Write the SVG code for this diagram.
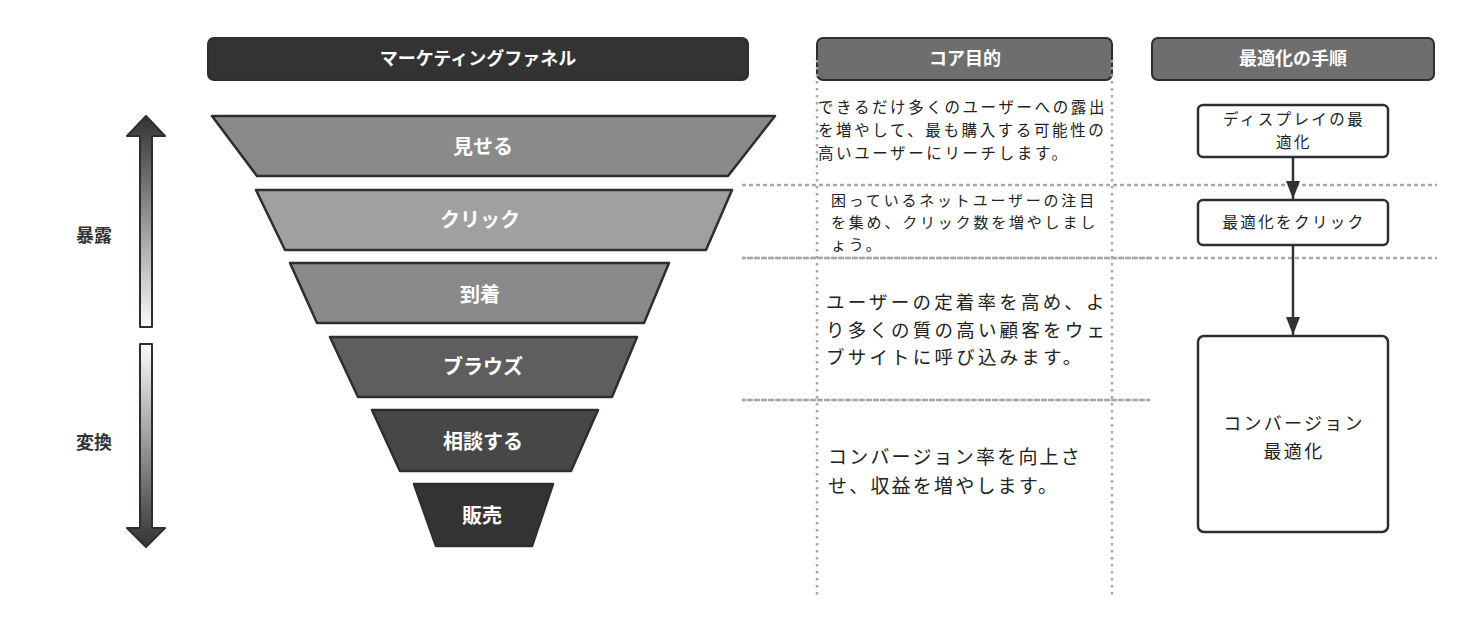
<svg xmlns="http://www.w3.org/2000/svg" width="1471" height="631" viewBox="0 0 1471 631">
<defs>
<linearGradient id="gUp" x1="0" y1="0" x2="0" y2="1"><stop offset="0" stop-color="#333"/><stop offset="1" stop-color="#fafafa"/></linearGradient>
<linearGradient id="gDown" x1="0" y1="0" x2="0" y2="1"><stop offset="0" stop-color="#fafafa"/><stop offset="1" stop-color="#333"/></linearGradient>
<marker id="arr" viewBox="0 0 18 14" refX="18" refY="7" markerWidth="18" markerHeight="14" markerUnits="userSpaceOnUse" orient="auto"><path d="M0,0 L18,7 L0,14 z" fill="#333"/></marker>
<style>
.t{font-family:"Noto Sans CJK JP","Noto Sans",sans-serif}
.hd{font-size:18px;font-weight:bold;fill:#fff;text-anchor:middle}
.fn{font-size:20px;font-weight:bold;fill:#fff;text-anchor:middle}
.lb{font-size:18px;font-weight:bold;fill:#333;text-anchor:middle}
.bx{fill:#fff;stroke:#2b2f33;stroke-width:2.5}
.tr{stroke:#2b2f33;stroke-width:2.5;stroke-linejoin:round}
.dv{stroke:#a8a8a8;stroke-width:2.5;stroke-dasharray:2.5 4.5;fill:none}
.dh{stroke:#a8a8a8;stroke-width:2.5;stroke-dasharray:4 3;fill:none}
.body{fill:#222}
.ln{stroke:#333;stroke-width:2.5;fill:none}
</style>
</defs>
<rect width="1471" height="631" fill="#fff"/>

<g id="header-funnel"><rect x="208" y="38" width="540" height="42" rx="6" fill="#333" stroke="#2b2f33" stroke-width="2"/><text class="t hd" x="478" y="65">マーケティングファネル</text></g>
<g id="header-core"><rect x="817" y="38" width="295" height="42" rx="6" fill="#6e6e6e" stroke="#2b2f33" stroke-width="2"/><text class="t hd" x="965" y="65">コア目的</text></g>
<g id="header-steps"><rect x="1152" y="38" width="282" height="42" rx="6" fill="#6e6e6e" stroke="#2b2f33" stroke-width="2"/><text class="t hd" x="1293" y="65">最適化の手順</text></g>

<g id="arrow-up"><path d="M146,116 L165,136 L152,136 L152,327 L140,327 L140,136 L127,136 Z" fill="url(#gUp)" stroke="#2b2f33" stroke-width="2" stroke-linejoin="round"/></g>
<g id="arrow-down"><path d="M140,344 L152,344 L152,528 L165,528 L146,547 L127,528 L140,528 Z" fill="url(#gDown)" stroke="#2b2f33" stroke-width="2" stroke-linejoin="round"/></g>
<g id="label-exposure"><text class="t lb" x="94" y="242">暴露</text></g>
<g id="label-conversion"><text class="t lb" x="94" y="449">変換</text></g>

<g id="stage-show"><polygon class="tr" points="212,116 775,116 728,176 257,176" fill="#8a8a8a"/><text class="t fn" x="483" y="154">見せる</text></g>
<g id="stage-click"><polygon class="tr" points="256,190 732,190 706,250 285,250" fill="#a0a0a0"/><text class="t fn" x="480" y="227">クリック</text></g>
<g id="stage-arrive"><polygon class="tr" points="290,263 669,263 644,323 317,323" fill="#8a8a8a"/><text class="t fn" x="480" y="302">到着</text></g>
<g id="stage-browse"><polygon class="tr" points="330,337 637,337 612,397 358,397" fill="#5e5e5e"/><text class="t fn" x="483" y="374">ブラウズ</text></g>
<g id="stage-consult"><polygon class="tr" points="372,410 598,410 571,471 400,471" fill="#474747"/><text class="t fn" x="483" y="449">相談する</text></g>
<g id="stage-sale"><polygon class="tr" points="414,484 553,484 532,546 436,546" fill="#333"/><text class="t fn" x="482" y="523">販売</text></g>

<g id="grid">
<line class="dv" x1="817" y1="60" x2="817" y2="595"/>
<line class="dv" x1="1112" y1="60" x2="1112" y2="595"/>
<line class="dh" x1="742" y1="185" x2="1437" y2="185"/>
<line class="dh" x1="742" y1="258" x2="1437" y2="258"/>
<line class="dh" x1="742" y1="258" x2="1150" y2="258" stroke-dashoffset="2"/>
<line class="dh" x1="742" y1="400" x2="1150" y2="400"/>
<line class="dh" x1="742" y1="400" x2="1150" y2="400" stroke-dashoffset="2"/>
</g>

<g id="core-1" class="t body" font-size="15.5" letter-spacing="2.6"><text x="818" y="113">できるだけ多くのユーザーへの露出</text><text x="818" y="136">を増やして、最も購入する可能性の</text><text x="818" y="159">高いユーザーにリーチします。</text></g>
<g id="core-2" class="t body" font-size="15" letter-spacing="2.8"><text x="831" y="206">困っているネットユーザーの注目</text><text x="831" y="228">を集め、クリック数を増やしまし</text><text x="831" y="250">ょう。</text></g>
<g id="core-3" class="t body" font-size="18.5" letter-spacing="3.2"><text x="826" y="309">ユーザーの定着率を高め、よ</text><text x="826" y="337">り多くの質の高い顧客をウェ</text><text x="826" y="364">ブサイトに呼び込みます。</text></g>
<g id="core-4" class="t body" font-size="19" letter-spacing="2.2"><text x="828" y="464">コンバージョン率を向上さ</text><text x="828" y="493">せ、収益を増やします。</text></g>

<g id="step-display" class="t body" font-size="15.5" letter-spacing="2.4" text-anchor="middle"><rect class="bx" x="1198" y="105" width="190" height="52" rx="5"/><text x="1294" y="125">ディスプレイの最</text><text x="1294" y="148">適化</text></g>
<g id="step-click" class="t body" font-size="15.5" letter-spacing="2.4" text-anchor="middle"><rect class="bx" x="1198" y="200" width="190" height="45" rx="5"/><text x="1294" y="228">最適化をクリック</text></g>
<g id="step-conversion" class="t body" font-size="18" letter-spacing="2.3" text-anchor="middle"><rect class="bx" x="1198" y="336" width="190" height="196" rx="6"/><text x="1294" y="430">コンバージョン</text><text x="1294" y="458">最適化</text></g>

<g id="connectors">
<line class="ln" x1="1293" y1="157" x2="1293" y2="199" marker-end="url(#arr)"/>
<line class="ln" x1="1293" y1="245" x2="1293" y2="335" marker-end="url(#arr)"/>
</g>
</svg>
